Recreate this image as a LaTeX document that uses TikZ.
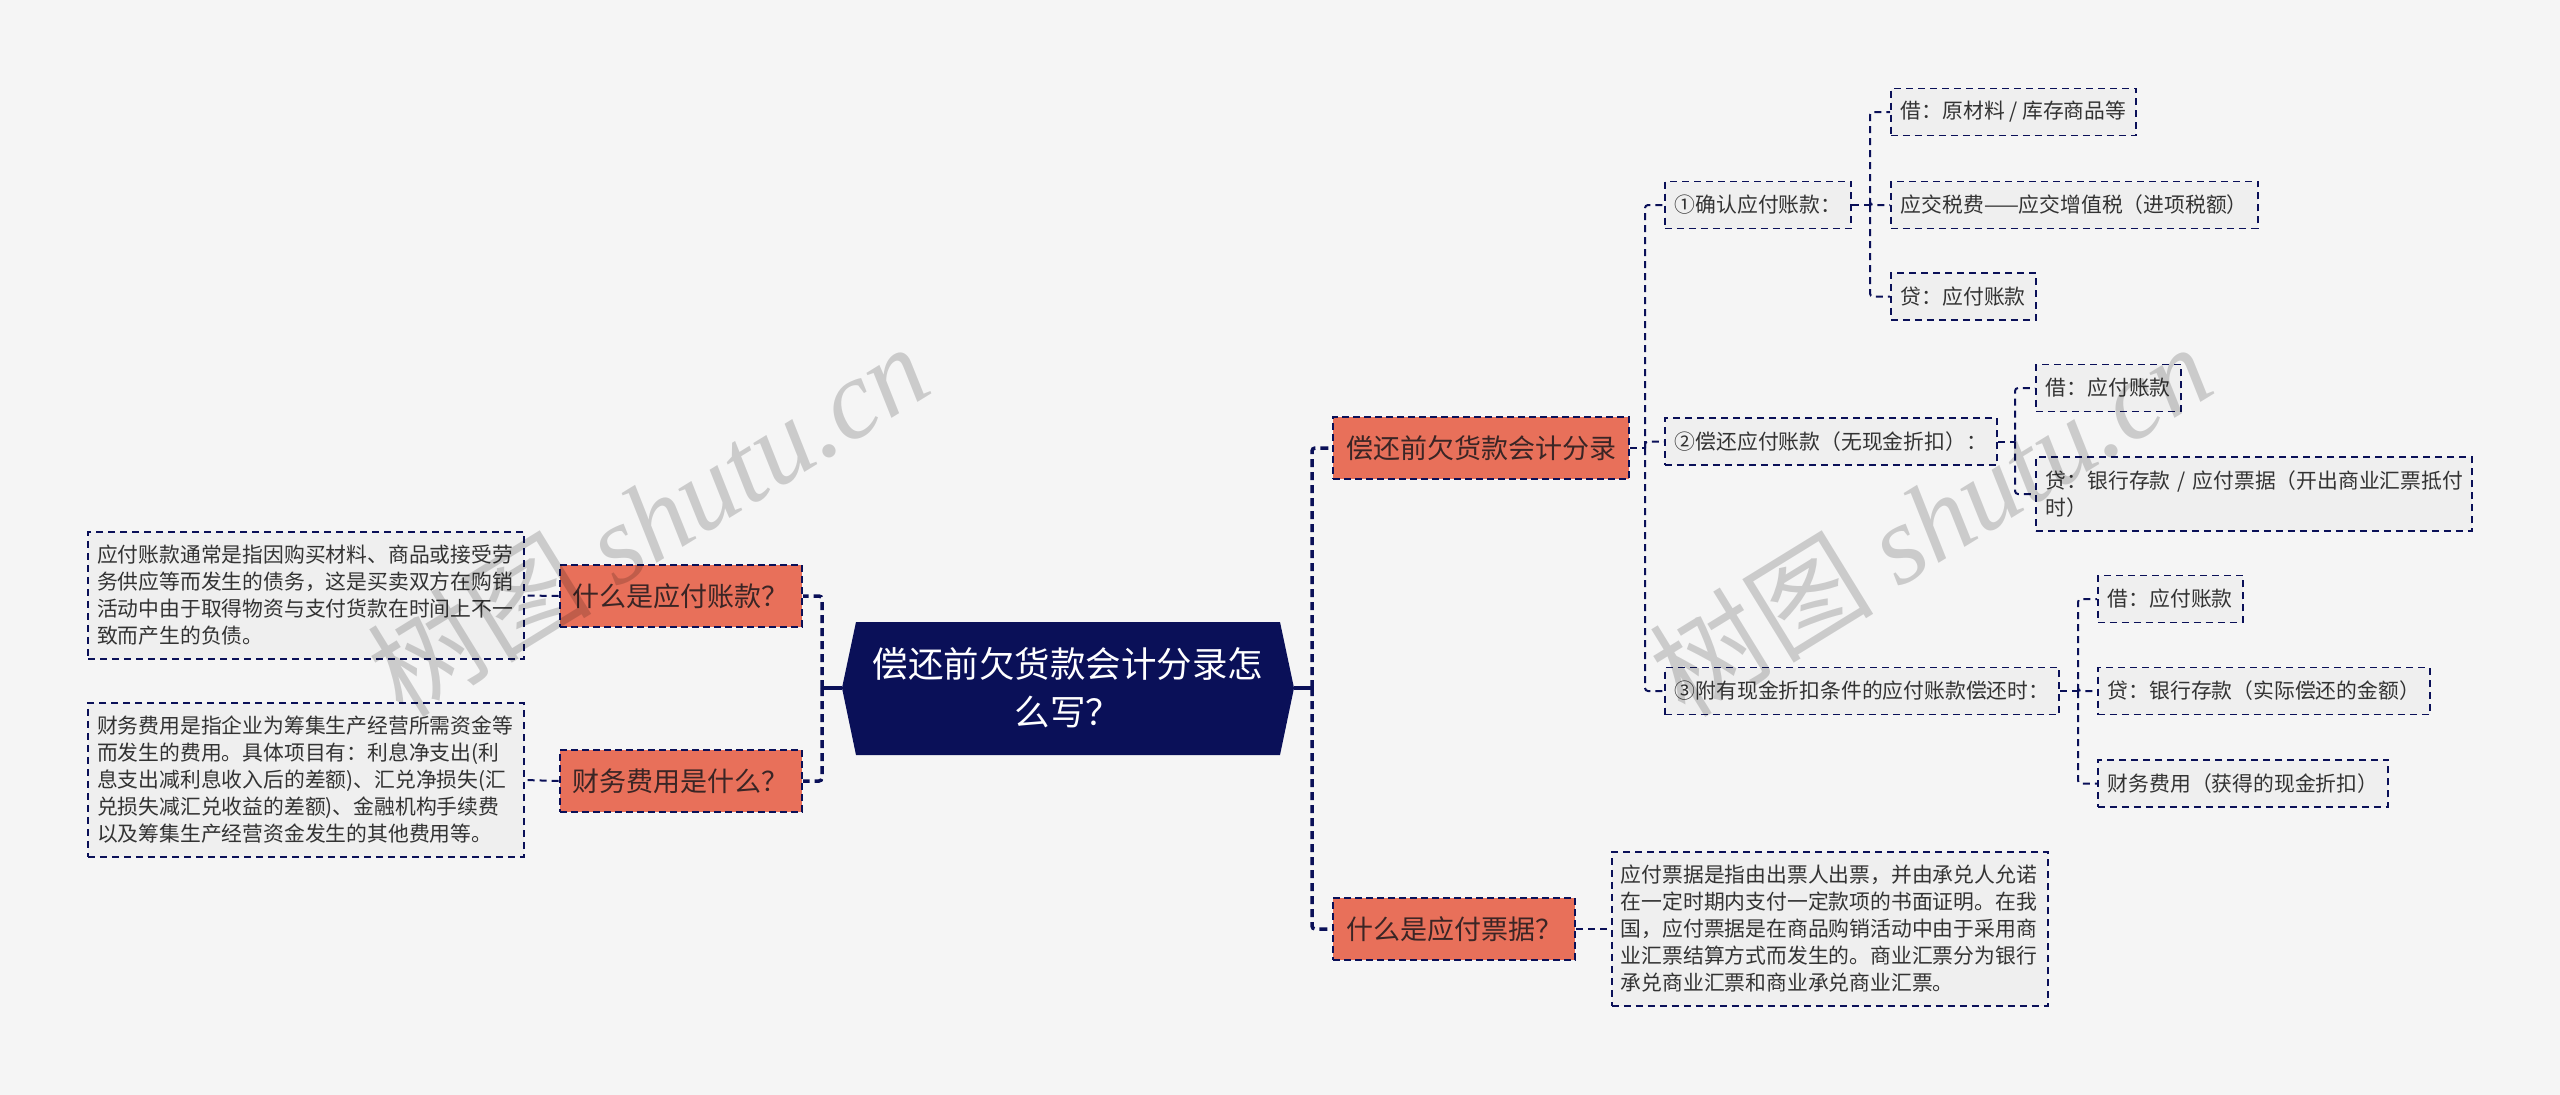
\documentclass[tikz,border=0pt]{standalone}
\usepackage{fontspec}
\setmainfont{Noto Sans CJK SC}
\newfontfamily\wmlatin{Liberation Serif}
\usetikzlibrary{calc}
\definecolor{bgc}{HTML}{F5F5F5}
\definecolor{navy}{HTML}{0A1058}
\definecolor{salmon}{HTML}{E8705A}
\definecolor{leaffill}{HTML}{EFEFEF}
\definecolor{inktext}{HTML}{333333}
\definecolor{qtext}{HTML}{3A2525}
\tikzset{
  rootbox/.style={minimum width=452pt,minimum height=133pt,inner sep=0pt,text=white,
    align=center,font=\fontsize{35.5}{48}\selectfont},
  qbox/.style={draw=navy,line width=2.4pt,dash pattern=on 7pt off 4pt,fill=salmon,text=qtext,
    minimum height=62pt,inner xsep=13pt,inner ysep=0pt,font=\fontsize{27}{32}\selectfont},
  leaf/.style={draw=navy,line width=1.8pt,dash pattern=on 7pt off 5pt,fill=leaffill,text=inktext,
    minimum height=47pt,inner xsep=10pt,inner ysep=0pt,anchor=west,font=\fontsize{20.8}{27}\selectfont},
  note/.style={draw=navy,line width=1.8pt,dash pattern=on 7pt off 5pt,fill=leaffill,text=inktext,
    text width=418pt,align=left,inner xsep=9pt,inner ysep=8pt,font=\fontsize{20.8}{27}\selectfont},
  stub/.style={navy,line width=3.5pt},
  lone/.style={navy,line width=3.5pt,dash pattern=on 8pt off 5pt,rounded corners=3pt},
  ltwo/.style={navy,line width=2pt,dash pattern=on 7pt off 5pt,rounded corners=3pt},
  wm/.style={text=black,text opacity=0.17,inner sep=0pt,font=\fontsize{112}{112}\selectfont}
}

\begin{document}
\begin{tikzpicture}[x=1pt,y=-1pt]
  \fill[bgc] (0,0) rectangle (2560,1095);
  \useasboundingbox (0,0) rectangle (2560,1095);

  % centre
  \fill[navy] (842,688) -- (856,622) -- (1280,622) -- (1294,688) -- (1280,755) -- (856,755) -- cycle;
  \node[rootbox] (root) at (1068,688) {偿还前欠货款会计分录怎\\么写？};

  % left side
  \node[qbox,anchor=east] (q1) at (803,596) {什么是应付账款？};
  \node[qbox,anchor=east] (q2) at (803,781) {财务费用是什么？};
  \node[note,anchor=east,minimum height=127pt] (d1) at (525,595.5)
    {应付账款通常是指因购买材料、商品或接受劳\\务供应等而发生的债务，这是买卖双方在购销\\活动中由于取得物资与支付货款在时间上不一\\致而产生的负债。};
  \node[note,anchor=east,minimum height=154pt] (d2) at (525,780)
    {财务费用是指企业为筹集生产经营所需资金等\\而发生的费用。具体项目有：利息净支出(利\\息支出减利息收入后的差额)、汇兑净损失(汇\\兑损失减汇兑收益的差额)、金融机构手续费\\以及筹集生产经营资金发生的其他费用等。};

  % right side
  \node[qbox,anchor=west] (s1) at (1332,448) {偿还前欠货款会计分录};
  \node[qbox,anchor=west] (s2) at (1332,929) {什么是应付票据？};
  \node[note,anchor=west,minimum height=154pt] (d3) at (1611,929)
    {应付票据是指由出票人出票，并由承兑人允诺\\在一定时期内支付一定款项的书面证明。在我\\国，应付票据是在商品购销活动中由于采用商\\业汇票结算方式而发生的。商业汇票分为银行\\承兑商业汇票和商业承兑商业汇票。};

  \node[leaf] (a1) at (1664,205) {①确认应付账款：};
  \node[leaf] (a2) at (1664,441.5) {②偿还应付账款（无现金折扣）：};
  \node[leaf] (a3) at (1664,691) {③附有现金折扣条件的应付账款偿还时：};

  \node[leaf] (b1) at (1890,112) {借：原材料 / 库存商品等};
  \node[leaf] (b2) at (1890,205) {应交税费——应交增值税（进项税额）};
  \node[leaf] (b3) at (1890,296.5) {贷：应付账款};

  \node[leaf] (c1) at (2035,388) {借：应付账款};
  \node[leaf,text width=416pt,align=left,minimum height=74pt] (c2) at (2035,494)
    {贷：银行存款~/~应付票据（开出商业汇票抵付\\时）};

  \node[leaf] (e1) at (2097,599) {借：应付账款};
  \node[leaf] (e2) at (2097,691) {贷：银行存款（实际偿还的金额）};
  \node[leaf] (e3) at (2097,783.5) {财务费用（获得的现金折扣）};

  % connectors
  \coordinate (lj) at (822,688);
  \coordinate (rj) at (1312,688);
  \coordinate (sj) at (1645,448);
  \coordinate (aj1) at (1870,205);
  \coordinate (aj2) at (2015,441.5);
  \coordinate (aj3) at (2078,691);

  \draw[stub] (root.west) -- (lj);
  \draw[stub] (root.east) -- (rj);
  \foreach \c in {q1,q2} \draw[lone] (lj) |- (\c.east);
  \foreach \c in {s1,s2} \draw[lone] (rj) |- (\c.west);

  \draw[ltwo] (q1.west) -- (d1.east);
  \draw[ltwo] (q2.west) -- (d2.east);
  \draw[ltwo] (s2.east) -- (d3.west);

  \draw[ltwo] (s1.east) -- (sj);
  \foreach \c in {a1,a2,a3} \draw[ltwo] (sj) |- (\c.west);
  \draw[ltwo] (a1.east) -- (aj1);
  \foreach \c in {b1,b2,b3} \draw[ltwo] (aj1) |- (\c.west);
  \draw[ltwo] (a2.east) -- (aj2);
  \foreach \c in {c1,c2} \draw[ltwo] (aj2) |- (\c.west);
  \draw[ltwo] (a3.east) -- (aj3);
  \foreach \c in {e1,e2,e3} \draw[ltwo] (aj3) |- (\c.west);

  % watermark
  \node[wm,rotate=31.6] (wm1) at (648,519) {树图 {\wmlatin\itshape shutu.cn}};
  \node[wm,rotate=31.6] (wm2) at (1930,519) {树图 {\wmlatin\itshape shutu.cn}};
\end{tikzpicture}
\end{document}
